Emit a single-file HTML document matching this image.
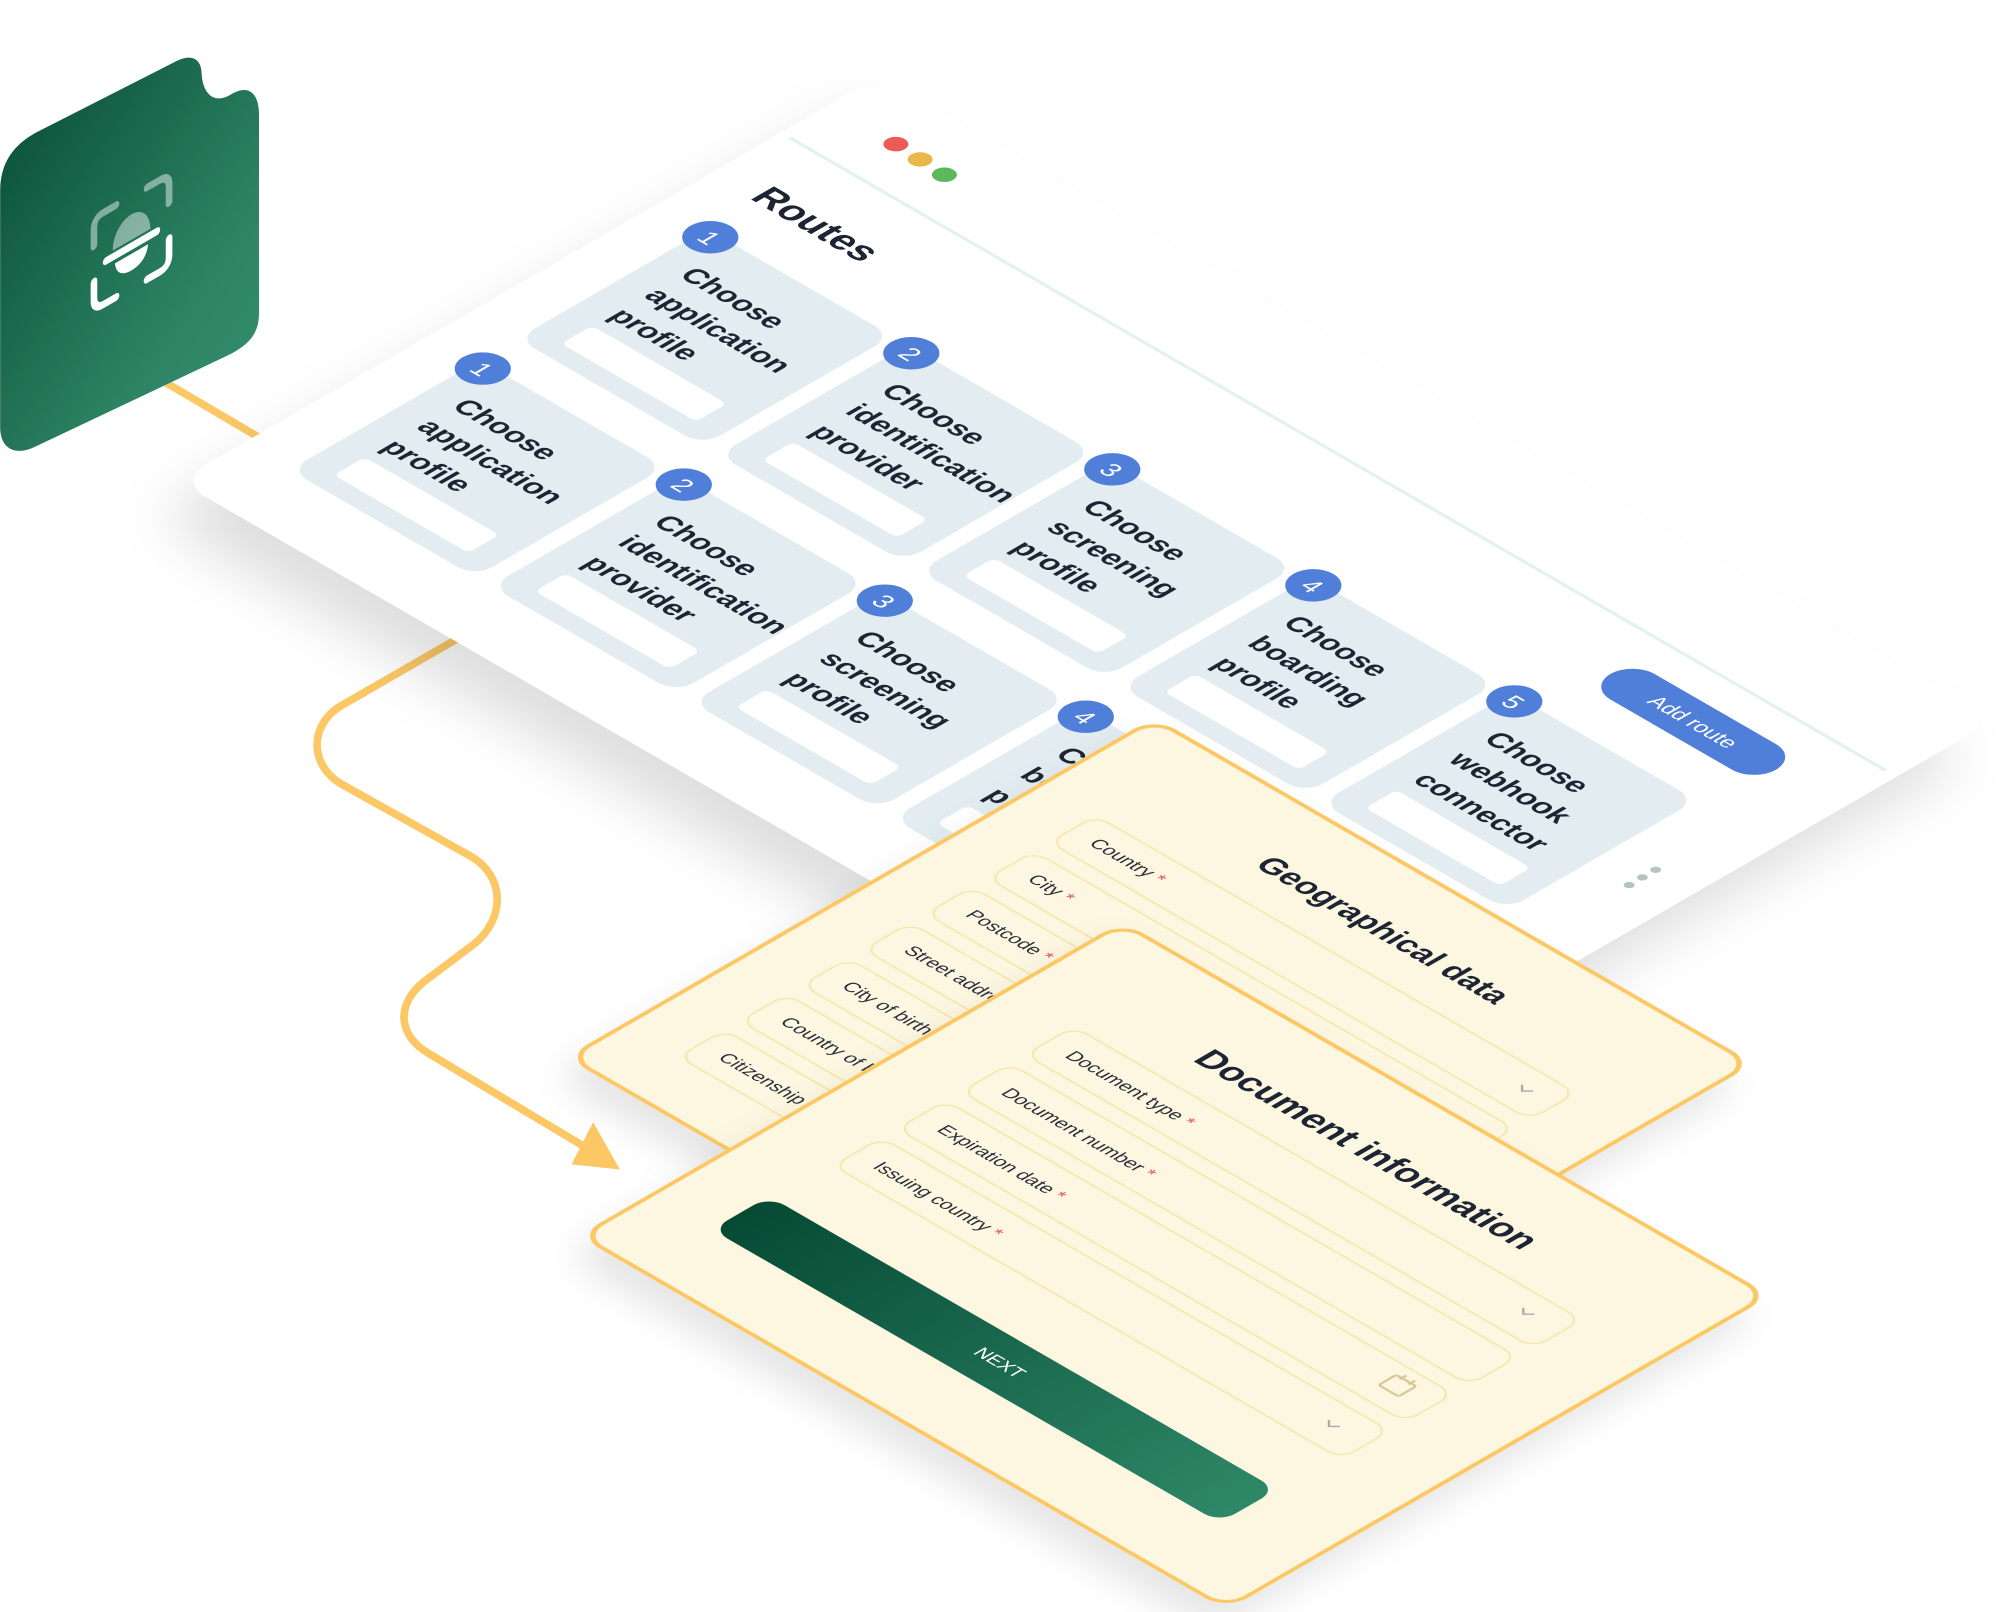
<!DOCTYPE html>
<html><head><meta charset="utf-8"><style>
html,body{margin:0;padding:0;background:#fff;}
svg{display:block;}
text{font-family:"Liberation Sans",sans-serif;}
</style></head><body>
<svg width="2000" height="1612" viewBox="0 0 1568 1264" xmlns="http://www.w3.org/2000/svg">
<defs>
<filter id="sh" x="-20%" y="-20%" width="140%" height="150%"><feDropShadow dx="-18" dy="28" stdDeviation="22" flood-color="#000" flood-opacity="0.13"/></filter>
<filter id="sh2" x="-20%" y="-20%" width="140%" height="150%"><feDropShadow dx="-10" dy="16" stdDeviation="14" flood-color="#000" flood-opacity="0.10"/></filter>
<linearGradient id="tg" x1="0" y1="0" x2="1" y2="1" gradientUnits="objectBoundingBox"><stop offset="0" stop-color="#064a34"/><stop offset="0.7" stop-color="#2e8566"/><stop offset="1" stop-color="#339070"/></linearGradient>
<linearGradient id="bg" x1="0" y1="0" x2="1" y2="0"><stop offset="0" stop-color="#064a34"/><stop offset="1" stop-color="#2e8868"/></linearGradient>
</defs>

<path d="M118,293 L300,400 L360,500 L268,553 C242,568 242,600 268,615 L370,672 C396,688 396,720 372,740 L332,770 C310,788 312,812 336,826 L468,905" fill="none" stroke="#fcc865" stroke-width="6" stroke-linejoin="round"/>
<polygon points="486,917 448,913 465,880" fill="#fcc865"/>

<path d="M0,150 C0,128 10,114 28,104 L138,48 C152,41 158,48 158,58 C159,74 168,82 181,74 C194,66 203,72 203,90 L203,245 C203,262 195,270 180,278 L28,350 C12,358 0,352 0,335 Z" fill="url(#tg)"/>
<g transform="matrix(0.866,-0.5,0,1,103,190)">
<g fill="none" stroke-width="6" stroke-linecap="round">
<path d="M-34,-14 L-34,-28 C-34,-33 -31,-36 -26,-36 L-14,-36" stroke="#fff" stroke-opacity="0.45"/>
<path d="M14,-36 L26,-36 C31,-36 34,-33 34,-28 L34,-14" stroke="#fff" stroke-opacity="0.45"/>
<path d="M-34,14 L-34,28 C-34,33 -31,36 -26,36 L-14,36" stroke="#fff"/>
<path d="M14,36 L26,36 C31,36 34,33 34,28 L34,14" stroke="#fff"/>
</g>
<path d="M-17,-2 C-17,-14 -9,-22 0,-22 C9,-22 17,-14 17,-2 Z" fill="#fff" fill-opacity="0.45"/>
<rect x="-26" y="0" width="52" height="6" rx="3" fill="#fff"/>
<path d="M-15,9 L15,9 C14,18 8,22 0,22 C-8,22 -14,18 -15,9 Z" fill="#fff"/>
</g>

<g filter="url(#sh)"><g transform="matrix(0.866,0.5,-0.866,0.5,685,62)"><rect x="0" y="-4" width="1010" height="634" rx="24" fill="#fff"/></g></g>
<g transform="matrix(0.866,0.5,-0.866,0.5,685,62)">
<line x1="8" y1="84" x2="1000" y2="84" stroke="#e3f3ec" stroke-width="3"/>
<circle cx="61" cy="41" r="8" fill="#ec5b55"/>
<circle cx="84" cy="42" r="8" fill="#e9b84a"/>
<circle cx="107" cy="43" r="8" fill="#5cb85c"/>
<text x="37" y="150" font-size="30" font-weight="bold" fill="#1d2433">Routes</text>
<rect x="800" y="113" width="150" height="40" rx="20" fill="#4f7fd9"/>
<text x="875" y="139" font-size="17" fill="#fff" text-anchor="middle">Add route</text>
<circle cx="974" cy="266" r="3.5" fill="#b6c3c3"/><circle cx="974" cy="278" r="3.5" fill="#b6c3c3"/><circle cx="974" cy="290" r="3.5" fill="#b6c3c3"/>
<g font-size="23" font-weight="bold" fill="#1d2433">
<g transform="translate(42,193)"><rect width="168" height="172" rx="16" fill="#e3edf1"/><rect x="24" y="128" width="122" height="28" rx="5" fill="#fff"/><text x="24" y="50">Choose</text><text x="24" y="82">application</text><text x="24" y="114">profile</text><circle cx="8" cy="5" r="18" fill="#4f7fd9"/><text x="8" y="13" font-size="20" fill="#fff" text-anchor="middle" font-weight="normal">1</text></g>
<g transform="translate(224,193)"><rect width="168" height="172" rx="16" fill="#e3edf1"/><rect x="24" y="128" width="122" height="28" rx="5" fill="#fff"/><text x="24" y="50">Choose</text><text x="24" y="82">identification</text><text x="24" y="114">provider</text><circle cx="8" cy="5" r="18" fill="#4f7fd9"/><text x="8" y="13" font-size="20" fill="#fff" text-anchor="middle" font-weight="normal">2</text></g>
<g transform="translate(406,193)"><rect width="168" height="172" rx="16" fill="#e3edf1"/><rect x="24" y="128" width="122" height="28" rx="5" fill="#fff"/><text x="24" y="50">Choose</text><text x="24" y="82">screening</text><text x="24" y="114">profile</text><circle cx="8" cy="5" r="18" fill="#4f7fd9"/><text x="8" y="13" font-size="20" fill="#fff" text-anchor="middle" font-weight="normal">3</text></g>
<g transform="translate(588,193)"><rect width="168" height="172" rx="16" fill="#e3edf1"/><rect x="24" y="128" width="122" height="28" rx="5" fill="#fff"/><text x="24" y="50">Choose</text><text x="24" y="82">boarding</text><text x="24" y="114">profile</text><circle cx="8" cy="5" r="18" fill="#4f7fd9"/><text x="8" y="13" font-size="20" fill="#fff" text-anchor="middle" font-weight="normal">4</text></g>
<g transform="translate(770,193)"><rect width="168" height="172" rx="16" fill="#e3edf1"/><rect x="24" y="128" width="122" height="28" rx="5" fill="#fff"/><text x="24" y="50">Choose</text><text x="24" y="82">webhook</text><text x="24" y="114">connector</text><circle cx="8" cy="5" r="18" fill="#4f7fd9"/><text x="8" y="13" font-size="20" fill="#fff" text-anchor="middle" font-weight="normal">5</text></g>
<g transform="translate(42,399)"><rect width="168" height="172" rx="16" fill="#e3edf1"/><rect x="24" y="128" width="122" height="28" rx="5" fill="#fff"/><text x="24" y="50">Choose</text><text x="24" y="82">application</text><text x="24" y="114">profile</text><circle cx="8" cy="5" r="18" fill="#4f7fd9"/><text x="8" y="13" font-size="20" fill="#fff" text-anchor="middle" font-weight="normal">1</text></g>
<g transform="translate(224,399)"><rect width="168" height="172" rx="16" fill="#e3edf1"/><rect x="24" y="128" width="122" height="28" rx="5" fill="#fff"/><text x="24" y="50">Choose</text><text x="24" y="82">identification</text><text x="24" y="114">provider</text><circle cx="8" cy="5" r="18" fill="#4f7fd9"/><text x="8" y="13" font-size="20" fill="#fff" text-anchor="middle" font-weight="normal">2</text></g>
<g transform="translate(406,399)"><rect width="168" height="172" rx="16" fill="#e3edf1"/><rect x="24" y="128" width="122" height="28" rx="5" fill="#fff"/><text x="24" y="50">Choose</text><text x="24" y="82">screening</text><text x="24" y="114">profile</text><circle cx="8" cy="5" r="18" fill="#4f7fd9"/><text x="8" y="13" font-size="20" fill="#fff" text-anchor="middle" font-weight="normal">3</text></g>
<g transform="translate(588,399)"><rect width="168" height="172" rx="16" fill="#e3edf1"/><rect x="24" y="128" width="122" height="28" rx="5" fill="#fff"/><text x="24" y="50">Choose</text><text x="24" y="82">boarding</text><text x="24" y="114">profile</text><circle cx="8" cy="5" r="18" fill="#4f7fd9"/><text x="8" y="13" font-size="20" fill="#fff" text-anchor="middle" font-weight="normal">4</text></g>
</g>
</g>

<g filter="url(#sh2)"><g transform="matrix(0.866,0.5,-0.866,0.5,905,568)"><rect x="-4" y="-4" width="540" height="530" rx="18" fill="#fdf7e1" stroke="#fcc865" stroke-width="3.5"/></g></g>
<g transform="matrix(0.866,0.5,-0.866,0.5,905,568)" font-size="15" fill="#2a2f3a">
<text x="265" y="66" font-size="25" font-weight="bold" text-anchor="middle" fill="#1d2433">Geographical data</text>
<g fill="none" stroke="#f7e6ad" stroke-width="1.5">
<rect x="45" y="98" width="435" height="42" rx="12"/><rect x="45" y="154" width="435" height="42" rx="12"/><rect x="45" y="210" width="435" height="42" rx="12"/><rect x="45" y="266" width="435" height="42" rx="12"/><rect x="45" y="322" width="435" height="42" rx="12"/><rect x="45" y="378" width="435" height="42" rx="12"/><rect x="45" y="434" width="435" height="42" rx="12"/>
</g>
<text x="64" y="124">Country <tspan fill="#e85a50">*</tspan></text>
<text x="64" y="180">City <tspan fill="#e85a50">*</tspan></text>
<text x="64" y="236">Postcode <tspan fill="#e85a50">*</tspan></text>
<text x="64" y="292">Street address <tspan fill="#e85a50">*</tspan></text>
<text x="64" y="348">City of birth <tspan fill="#e85a50">*</tspan></text>
<text x="64" y="404">Country of birth <tspan fill="#e85a50">*</tspan></text>
<text x="64" y="460">Citizenship <tspan fill="#e85a50">*</tspan></text>
<path d="M449,116 L454,121 L459,116" fill="none" stroke="#aaa" stroke-width="1.5"/>
</g>

<g filter="url(#sh2)"><g transform="matrix(0.866,0.5,-0.866,0.5,880,728)"><rect x="-4" y="-4" width="584" height="490" rx="18" fill="#fdf7e1" stroke="#fcc865" stroke-width="3.5"/></g></g>
<g transform="matrix(0.866,0.5,-0.866,0.5,880,728)" font-size="15" fill="#2a2f3a">
<text x="284" y="72" font-size="28" font-weight="bold" text-anchor="middle" fill="#1d2433">Document information</text>
<g fill="none" stroke="#f7e6ad" stroke-width="1.5">
<rect x="55" y="99" width="460" height="44" rx="12"/><rect x="55" y="157" width="460" height="44" rx="12"/><rect x="55" y="215" width="460" height="44" rx="12"/><rect x="55" y="273" width="460" height="44" rx="12"/>
</g>
<text x="74" y="127">Document type <tspan fill="#e85a50">*</tspan></text>
<text x="74" y="185">Document number <tspan fill="#e85a50">*</tspan></text>
<text x="74" y="243">Expiration date <tspan fill="#e85a50">*</tspan></text>
<text x="74" y="301">Issuing country <tspan fill="#e85a50">*</tspan></text>
<path d="M479,116 L484,121 L489,116" fill="none" stroke="#aaa" stroke-width="1.5"/>
<path d="M479,292 L484,297 L489,292" fill="none" stroke="#aaa" stroke-width="1.5"/>
<g fill="none" stroke="#d8c898" stroke-width="2"><rect x="474" y="226" width="18" height="16" rx="2"/><line x1="479" y1="222" x2="479" y2="228"/><line x1="487" y1="222" x2="487" y2="228"/></g>
<rect x="50" y="370" width="460" height="52" rx="14" fill="url(#bg)"/>
<text x="285" y="401" font-size="15" fill="#fff" text-anchor="middle">NEXT</text>
</g>
</svg>
</body></html>
